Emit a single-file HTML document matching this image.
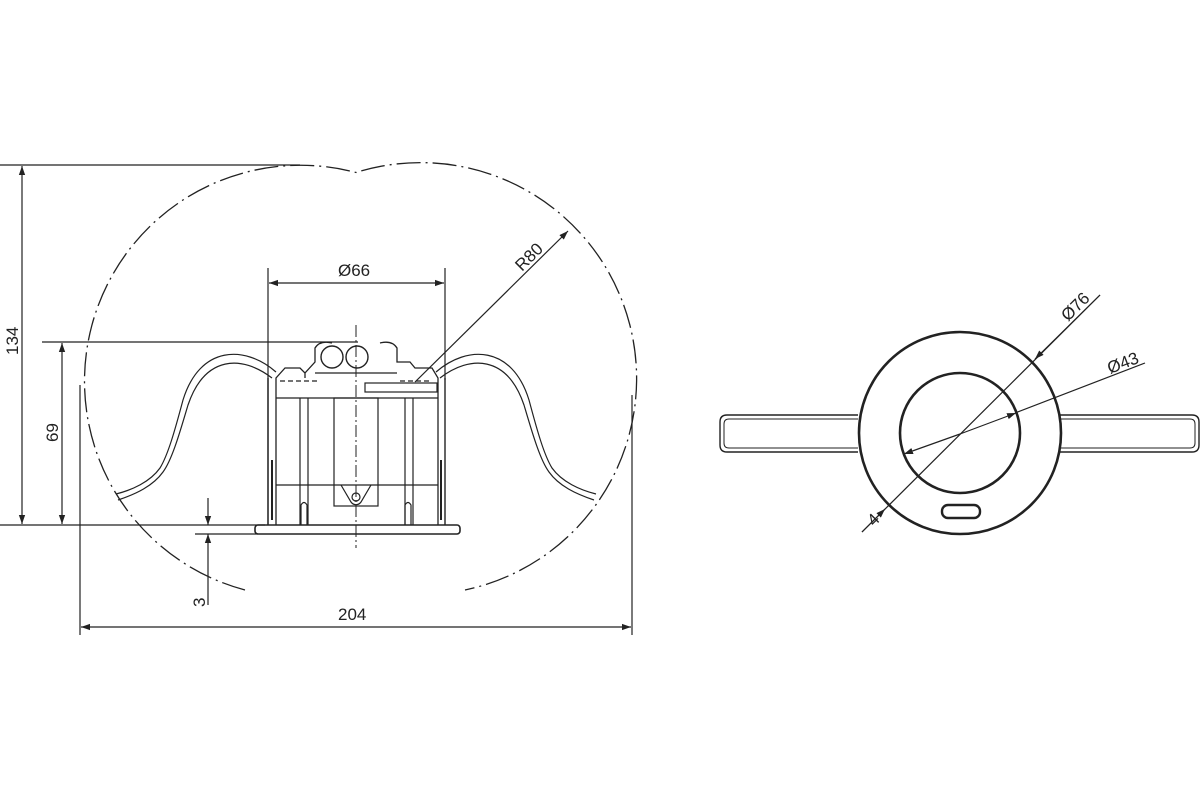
<!DOCTYPE html>
<html><head><meta charset="utf-8"><style>
html,body{margin:0;padding:0;background:#fff;}
svg{display:block}
text{font-family:"Liberation Sans",sans-serif;font-size:17px;fill:#222;}
</style></head><body>
<svg width="1200" height="800" viewBox="0 0 1200 800" xmlns="http://www.w3.org/2000/svg">
<defs>
<marker id="a" viewBox="0 0 10 10" refX="10" refY="5" markerWidth="9" markerHeight="9" orient="auto-start-reverse" markerUnits="userSpaceOnUse"><path d="M0,1.5 L10,5 L0,8.5z" fill="#222"/></marker>
</defs>
<g fill="none" stroke="#222" stroke-width="1.2">
<!-- outline dash-dot -->
<path d="M245,590 A216 216 0 1 1 356,172.5 A216 216 0 1 1 465,590" stroke-dasharray="24 5 2 5" stroke-width="1.3"/>
<!-- 134 -->
<line x1="0" y1="165" x2="300" y2="165"/>
<line x1="0" y1="525" x2="265" y2="525"/>
<line x1="22" y1="166" x2="22" y2="524" marker-start="url(#a)" marker-end="url(#a)"/>
<!-- 69 -->
<line x1="42" y1="342" x2="358" y2="342"/>
<line x1="62" y1="343" x2="62" y2="524" marker-start="url(#a)" marker-end="url(#a)"/>
<!-- 3 -->
<line x1="195" y1="534" x2="258" y2="534"/>
<line x1="208" y1="498" x2="208" y2="525" marker-end="url(#a)"/>
<line x1="208" y1="605" x2="208" y2="534" marker-end="url(#a)"/>
<!-- 204 -->
<line x1="80" y1="385" x2="80" y2="635"/>
<line x1="632" y1="395" x2="632" y2="635"/>
<line x1="81" y1="627" x2="631" y2="627" marker-start="url(#a)" marker-end="url(#a)"/>
<!-- Ø66 -->
<line x1="268" y1="268" x2="268" y2="525"/>
<line x1="445" y1="268" x2="445" y2="380"/>
<line x1="269" y1="283" x2="444" y2="283" marker-start="url(#a)" marker-end="url(#a)"/>
<!-- R80 -->
<line x1="415" y1="382" x2="568" y2="231" marker-end="url(#a)"/>
<!-- centre line -->
<line x1="356" y1="325" x2="356" y2="548" stroke-dasharray="12 3 2 3" stroke-width="1"/>
<!-- body -->
<rect x="255" y="525" width="205" height="9" rx="3" stroke-width="1.6"/>
<line x1="268" y1="378" x2="268" y2="525" stroke-width="1.4"/>
<line x1="445" y1="378" x2="445" y2="525" stroke-width="1.4"/>
<path d="M276,525 V378 L285,368 H300 L305,373 V378 M305,378 V373 L315,362 V348 Q320,340 332,343 M380,343 Q392,340 397,348 V362 H410 L415,368 H432 L438,378 V525" stroke-width="1.3"/>
<line x1="276" y1="398" x2="438" y2="398"/>
<line x1="315" y1="373" x2="397" y2="373"/>
<circle cx="332" cy="357" r="11" stroke-width="1.4"/>
<circle cx="357" cy="357" r="11" stroke-width="1.4"/>
<rect x="365" y="383" width="72" height="9"/>
<line x1="280" y1="381" x2="320" y2="381" stroke-dasharray="5 3"/>
<line x1="400" y1="381" x2="432" y2="381" stroke-dasharray="5 3"/>
<line x1="300" y1="398" x2="300" y2="525"/><line x1="308" y1="398" x2="308" y2="525"/>
<line x1="405" y1="398" x2="405" y2="525"/><line x1="413" y1="398" x2="413" y2="525"/>
<rect x="334" y="398" width="44" height="108"/>
<line x1="276" y1="485" x2="438" y2="485"/>
<path d="M341,485 L351,502 A6 6 0 0 0 361,502 L371,485"/>
<circle cx="356" cy="497" r="4"/>
<path d="M301,525 V505 Q304,500 307,505 V525 M405,525 V505 Q408,500 411,505 V525"/>
<line x1="272" y1="460" x2="272" y2="520" stroke-width="2"/>
<line x1="441" y1="460" x2="441" y2="520" stroke-width="2"/>
<!-- springs -->
<path d="M276,372 C245,345 200,345 183,400 C175,430 168,455 160,468 C150,482 132,490 116,494" stroke-width="1.2"/>
<path d="M272,378 C242,355 205,355 188,405 C180,432 172,460 163,472 C153,486 136,494 118,500" stroke-width="1.2"/>
<path d="M436,372 C467,345 512,345 529,400 C537,430 544,455 552,468 C562,482 580,490 596,494" stroke-width="1.2"/>
<path d="M440,378 C470,355 507,355 524,405 C532,432 540,460 549,472 C559,486 576,494 594,500" stroke-width="1.2"/>
<!-- right view -->
<path d="M858,415 H727 Q720,415 720,422 V445 Q720,452 727,452 H858" stroke-width="1.4"/>
<path d="M858,419 H729 Q724,419 724,424 V443 Q724,448 729,448 H858" stroke-width="1"/>
<path d="M1060,415 H1192 Q1199,415 1199,422 V445 Q1199,452 1192,452 H1060" stroke-width="1.4"/>
<path d="M1060,419 H1190 Q1195,419 1195,424 V443 Q1195,448 1190,448 H1060" stroke-width="1"/>
<circle cx="960" cy="433" r="101" stroke-width="2.6" fill="#fff"/>
<circle cx="960" cy="433" r="60" stroke-width="2.6"/>
<rect x="942" y="505" width="38" height="13" rx="6" stroke-width="2.4"/>
<line x1="862" y1="532" x2="1100" y2="295"/>
<line x1="1100" y1="295" x2="1035" y2="359" marker-end="url(#a)"/>
<line x1="862" y1="532" x2="885" y2="509" marker-end="url(#a)"/>
<line x1="1145" y1="363" x2="1015" y2="413"/>
<line x1="960" y1="434" x2="1016" y2="413" marker-end="url(#a)"/>
<line x1="960" y1="434" x2="904" y2="454" marker-end="url(#a)"/>
</g>
<text transform="translate(18,355) rotate(-90)">134</text>
<text transform="translate(58,442) rotate(-90)">69</text>
<text transform="translate(205,607) rotate(-90)">3</text>
<text x="338" y="620">204</text>
<text x="338" y="276">Ø66</text>
<text transform="translate(522,272) rotate(-45)">R80</text>
<text transform="translate(1068,322) rotate(-45)">Ø76</text>
<text transform="translate(1110,374) rotate(-21)">Ø43</text>
<text transform="translate(874,527) rotate(-45)">4</text>
</svg>
</body></html>
